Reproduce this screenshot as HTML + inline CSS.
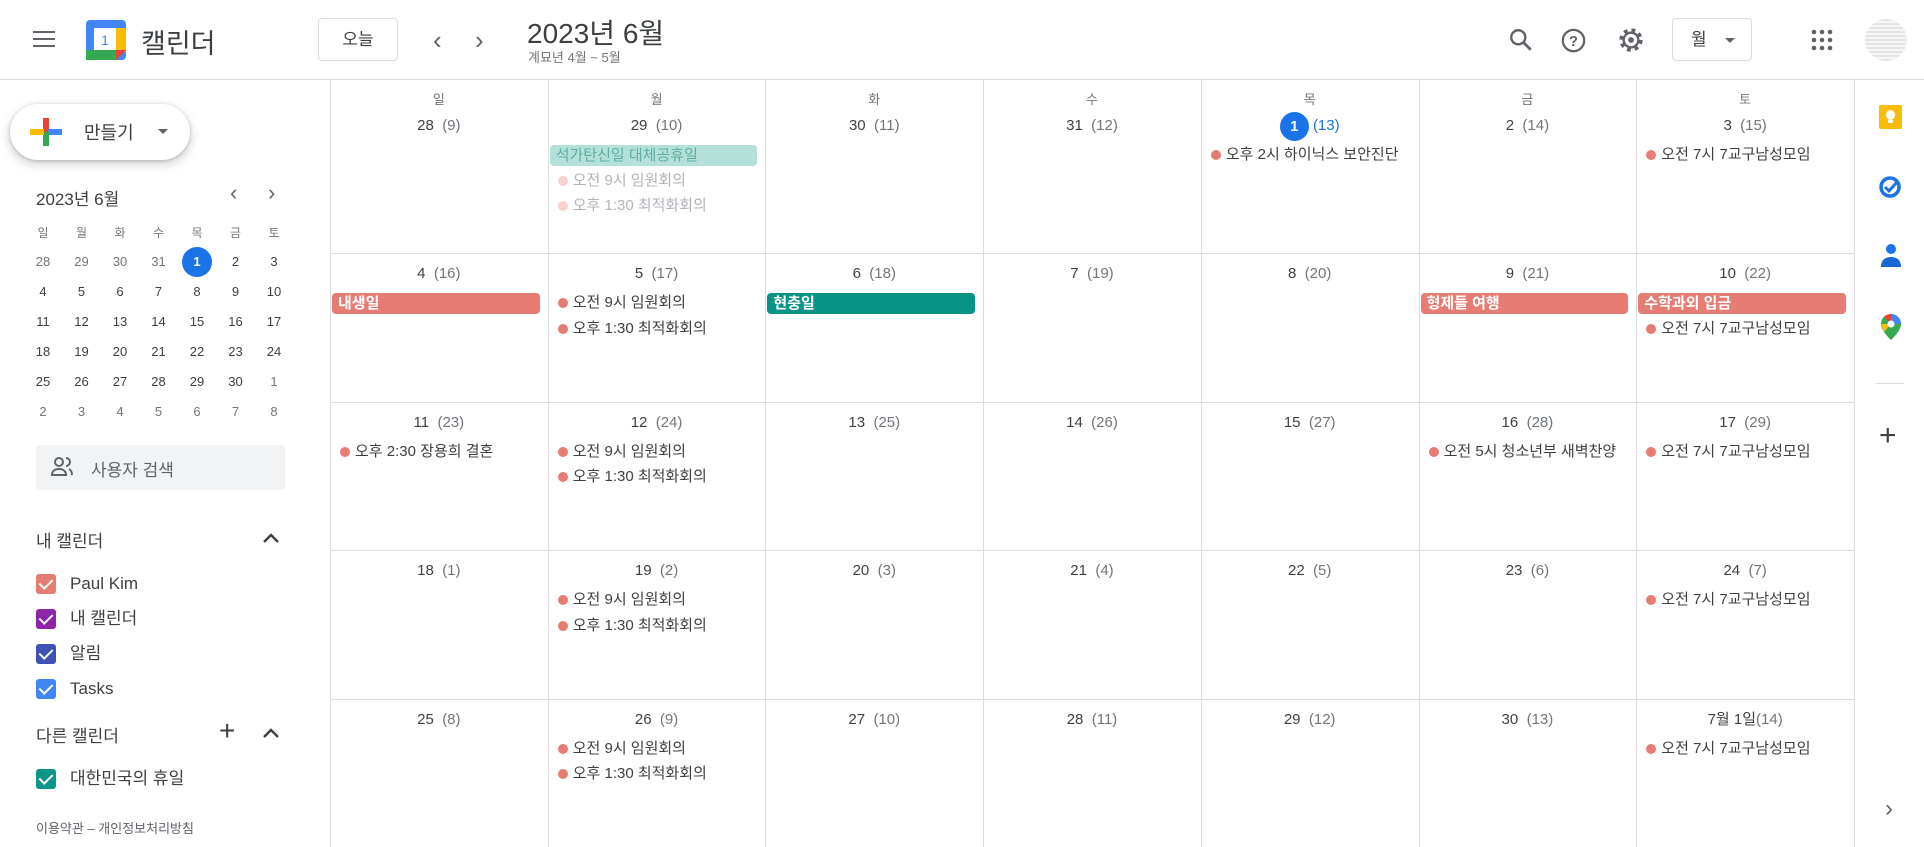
<!DOCTYPE html>
<html lang="ko"><head><meta charset="utf-8">
<style>
*{box-sizing:border-box;margin:0;padding:0}
body{width:1924px;height:847px;overflow:hidden;background:#fff;font-family:"Liberation Sans","Noto Sans CJK KR",sans-serif;color:#3c4043;position:relative}
.abs{position:absolute}
.ic{color:#5f6368}
.grid-line{position:absolute;background:#dadce0}
.cell-date{position:absolute;text-align:center;font-size:15px;line-height:20px;height:20px;color:#3c4043;white-space:nowrap;display:flex;justify-content:center;align-items:center}
.cell-date .lun{color:#70757a}
.ev-bar{position:absolute;height:21px;border-radius:4px;color:#fff;font-size:15px;font-weight:bold;line-height:21px;padding-left:6px;white-space:nowrap;overflow:hidden}
.ev-dot{position:absolute;font-size:15px;line-height:20px;white-space:nowrap;color:#3c4043}
.ev-dot i{position:absolute;left:-15px;top:5px;width:10px;height:10px;border-radius:50%;background:#e67c73}
.mini{position:absolute;width:38px;text-align:center;font-size:13px;line-height:18px;color:#3c4043}
.cb{position:absolute;left:36px;width:20px;height:20px;border-radius:3px}
.cb::after{content:"";position:absolute;left:6px;top:2px;width:6px;height:11px;border:solid #fff;border-width:0 2px 2px 0;transform:rotate(45deg)}
.cbl{position:absolute;left:70px;font-size:17px;line-height:20px;height:20px;color:#3c4043}
</style></head><body>

<!-- Header -->
<div class="abs" style="left:0;top:0;width:1924px;height:80px;border-bottom:1px solid #dadce0"></div>
<div class="abs" style="left:33px;top:31px;width:22px;height:16px">
  <div style="height:2px;background:#5f6368;margin-bottom:5px"></div><div style="height:2px;background:#5f6368;margin-bottom:5px"></div><div style="height:2px;background:#5f6368"></div>
</div>
<div class="abs" style="left:86px;top:20px;width:40px;height:40px">
  <svg width="40" height="40" viewBox="0 0 40 40"><rect x="0" y="0" width="40" height="40" rx="4" fill="#4285f4"/><rect x="30" y="8" width="10" height="24" fill="#fbbc04"/><rect x="0" y="30" width="32" height="10" fill="#34a853"/><polygon points="30,30 40,30 30,40" fill="#ea4335"/><rect x="8" y="8" width="22" height="22" fill="#fff"/><text x="19" y="25" font-size="14" text-anchor="middle" fill="#4285f4" font-family="Liberation Sans">1</text></svg>
</div>
<div class="abs" style="left:141px;top:22px;font-size:27px;color:#3c4043">캘린더</div>
<div class="abs" style="left:318px;top:18px;width:80px;height:43px;border:1px solid #dadce0;border-radius:4px;font-size:17px;text-align:center;line-height:41px">오늘</div>
<div class="abs ic" style="left:433px;top:25px;font-size:26px">&#8249;</div>
<div class="abs ic" style="left:475px;top:25px;font-size:26px">&#8250;</div>
<div class="abs" style="left:527px;top:12px;font-size:28px;color:#3c4043">2023년 6월</div>
<div class="abs" style="left:528px;top:47px;font-size:13px;color:#70757a">계묘년 4월 ~ 5월</div>

<svg class="abs" style="left:1508px;top:27px" width="26" height="26" viewBox="0 0 24 24"><circle cx="9.5" cy="9.5" r="6.5" fill="none" stroke="#5f6368" stroke-width="2.2"/><line x1="14" y1="14" x2="21" y2="21" stroke="#5f6368" stroke-width="2.6"/></svg>
<svg class="abs" style="left:1560px;top:27px" width="27" height="27" viewBox="0 0 24 24"><circle cx="12" cy="12" r="9.5" fill="none" stroke="#5f6368" stroke-width="2"/><text x="12" y="17" font-size="13" text-anchor="middle" fill="#5f6368" font-family="Liberation Sans" font-weight="bold">?</text></svg>
<svg class="abs" style="left:1617px;top:26px" width="28" height="28" viewBox="0 0 24 24"><circle cx="12" cy="12" r="8.5" fill="none" stroke="#5f6368" stroke-width="3" stroke-dasharray="3.3 3.4"/><circle cx="12" cy="12" r="6.3" fill="none" stroke="#5f6368" stroke-width="2"/><circle cx="12" cy="12" r="2.5" fill="#5f6368"/></svg>
<div class="abs" style="left:1672px;top:18px;width:80px;height:43px;border:1px solid #dadce0;border-radius:4px;font-size:17px;line-height:41px;padding-left:18px">월<span style="position:absolute;left:52px;top:19px;border:5px solid transparent;border-top-color:#5f6368"></span></div>
<svg class="abs" style="left:1810px;top:28px" width="24" height="24" viewBox="0 0 24 24"><g fill="#5f6368"><circle cx="4" cy="4" r="2.3"/><circle cx="12" cy="4" r="2.3"/><circle cx="20" cy="4" r="2.3"/><circle cx="4" cy="12" r="2.3"/><circle cx="12" cy="12" r="2.3"/><circle cx="20" cy="12" r="2.3"/><circle cx="4" cy="20" r="2.3"/><circle cx="12" cy="20" r="2.3"/><circle cx="20" cy="20" r="2.3"/></g></svg>
<div class="abs" style="left:1865px;top:19px;width:42px;height:42px;border-radius:50%;background:repeating-linear-gradient(0deg,#e4e4e4 0 2px,#f6f6f6 2px 4px)"></div>

<!-- Sidebar -->
<div class="abs" style="left:10px;top:104px;width:180px;height:56px;border-radius:28px;box-shadow:0 1px 3px rgba(60,64,67,.3),0 4px 8px 3px rgba(60,64,67,.15);background:#fff">
  <svg class="abs" style="left:20px;top:12px" width="32" height="32" viewBox="0 0 32 32"><rect x="13" y="2" width="6" height="14" fill="#ea4335"/><rect x="18" y="13" width="14" height="6" fill="#4285f4"/><rect x="13" y="16" width="6" height="14" fill="#34a853"/><rect x="0" y="13" width="14" height="6" fill="#fbbc04"/></svg>
  <span class="abs" style="left:74px;top:15px;font-size:18px;color:#3c4043">만들기</span>
  <span class="abs" style="left:148px;top:25px;border:5px solid transparent;border-top-color:#5f6368"></span>
</div>
<div class="abs" style="left:36px;top:185px;font-size:17px;color:#3c4043">2023년 6월</div>
<div class="abs ic" style="left:230px;top:180px;font-size:22px">&#8249;</div>
<div class="abs ic" style="left:268px;top:180px;font-size:22px">&#8250;</div>
<div id="mini"></div>

<div class="abs" style="left:36px;top:445px;width:249px;height:45px;background:#f1f3f4;border-radius:4px">
  <svg class="abs" style="left:14px;top:10px" width="26" height="24" viewBox="0 0 26 24"><circle cx="9" cy="7" r="4" fill="none" stroke="#5f6368" stroke-width="2"/><path d="M2 20c0-4 3-6 7-6s7 2 7 6z" fill="none" stroke="#5f6368" stroke-width="2"/><path d="M16 3a4 4 0 0 1 0 8M19 14c2 1 3 3 3 6" fill="none" stroke="#5f6368" stroke-width="2"/></svg>
  <span class="abs" style="left:55px;top:11px;font-size:17px;color:#5f6368">사용자 검색</span>
</div>
<div class="abs" style="left:36px;top:527px;font-size:17px;color:#3c4043">내 캘린더</div>
<svg class="abs" style="left:262px;top:532px" width="18" height="12" viewBox="0 0 18 12"><path d="M2 10l7-7 7 7" fill="none" stroke="#3c4043" stroke-width="2.4"/></svg>
<div class="cb" style="top:574px;background:#e67c73"></div><div class="cbl" style="top:574px">Paul Kim</div>
<div class="cb" style="top:609px;background:#8e24aa"></div><div class="cbl" style="top:609px">내 캘린더</div>
<div class="cb" style="top:644px;background:#3f51b5"></div><div class="cbl" style="top:644px">알림</div>
<div class="cb" style="top:679px;background:#4285f4"></div><div class="cbl" style="top:679px">Tasks</div>
<div class="abs" style="left:36px;top:722px;font-size:17px;color:#3c4043">다른 캘린더</div>
<div class="abs" style="left:219px;top:715px;font-size:28px;color:#3c4043;font-weight:300">+</div>
<svg class="abs" style="left:262px;top:727px" width="18" height="12" viewBox="0 0 18 12"><path d="M2 10l7-7 7 7" fill="none" stroke="#3c4043" stroke-width="2.4"/></svg>
<div class="cb" style="top:769px;background:#0b9688"></div><div class="cbl" style="top:769px">대한민국의 휴일</div>
<div class="abs" style="left:36px;top:818px;font-size:13px;color:#5f6368">이용약관 – 개인정보처리방침</div>

<!-- Grid -->
<div id="grid"></div>

<!-- Right side panel -->
<div class="grid-line" style="left:1854px;top:80px;width:1px;height:767px"></div>
<div class="abs" style="left:1879px;top:105px;width:23px;height:24px;background:#fbbc04;border-radius:2px"><div style="position:absolute;left:7px;top:5px;width:9px;height:10px;border-radius:50%;background:#fff"></div><div style="position:absolute;left:9px;top:15px;width:5px;height:3px;background:#fff"></div></div>
<svg class="abs" style="left:1878px;top:175px" width="24" height="24" viewBox="0 0 24 24"><circle cx="12" cy="12" r="9" fill="none" stroke="#1a73e8" stroke-width="3.5"/><path d="M7 12l4 4 8-9" fill="none" stroke="#1a73e8" stroke-width="3"/></svg>
<svg class="abs" style="left:1880px;top:243px" width="22" height="26" viewBox="0 0 22 26"><circle cx="11" cy="6" r="5" fill="#1a73e8"/><path d="M1 24c0-7 4-10 10-10s10 3 10 10z" fill="#1967d2"/></svg>
<svg class="abs" style="left:1880px;top:313px" width="22" height="28" viewBox="0 0 22 28"><path d="M11 1a10 10 0 0 0-10 10c0 7 10 16 10 16s10-9 10-16A10 10 0 0 0 11 1z" fill="#34a853"/><path d="M11 1a10 10 0 0 0-7 3l7 7z" fill="#ea4335"/><path d="M11 1a10 10 0 0 1 10 10l-10 0z" fill="#4285f4"/><path d="M1 11l10 0-7 8z" fill="#fbbc04"/><circle cx="11" cy="11" r="3.5" fill="#fff"/></svg>
<div class="grid-line" style="left:1876px;top:383px;width:28px;height:1px"></div>
<div class="abs" style="left:1879px;top:419px;font-size:30px;color:#3c4043;font-weight:300">+</div>
<div class="abs ic" style="left:1885px;top:795px;font-size:24px">&#8250;</div>

<script>
// mini calendar data
const miniWeekdays = ['일','월','화','수','목','금','토'];
const miniDates = [28,29,30,31,1,2,3,4,5,6,7,8,9,10,11,12,13,14,15,16,17,18,19,20,21,22,23,24,25,26,27,28,29,30,1,2,3,4,5,6,7,8];
const miniOther = [1,1,1,1,0,0,0,0,0,0,0,0,0,0,0,0,0,0,0,0,0,0,0,0,0,0,0,0,0,0,0,0,0,0,1,1,1,1,1,1,1,1];

// month grid data
const weekdays = ['일','월','화','수','목','금','토'];
const dayLabels = ['28','29','30','31','1','2','3','4','5','6','7','8','9','10','11','12','13','14','15','16','17','18','19','20','21','22','23','24','25','26','27','28','29','30','7월 1일'];
const lunarLabels = ['9','10','11','12','13','14','15','16','17','18','19','20','21','22','23','24','25','26','27','28','29','1','2','3','4','5','6','7','8','9','10','11','12','13','14'];
const todayIndex = 4;
const events = [
  {cell:1,type:'bar',color:'#b3e1da',text:'석가탄신일 대체공휴일',faded:true},
  {cell:1,type:'dot',text:'오전 9시 임원회의',faded:true},
  {cell:1,type:'dot',text:'오후 1:30 최적화회의',faded:true},
  {cell:4,type:'dot',text:'오후 2시 하이닉스 보안진단'},
  {cell:6,type:'dot',text:'오전 7시 7교구남성모임'},
  {cell:7,type:'bar',color:'#e67c73',text:'내생일'},
  {cell:8,type:'dot',text:'오전 9시 임원회의'},
  {cell:8,type:'dot',text:'오후 1:30 최적화회의'},
  {cell:9,type:'bar',color:'#079487',text:'현충일'},
  {cell:12,type:'bar',color:'#e67c73',text:'형제들 여행'},
  {cell:13,type:'bar',color:'#e67c73',text:'수학과외 입금'},
  {cell:13,type:'dot',text:'오전 7시 7교구남성모임'},
  {cell:14,type:'dot',text:'오후 2:30 장용희 결혼'},
  {cell:15,type:'dot',text:'오전 9시 임원회의'},
  {cell:15,type:'dot',text:'오후 1:30 최적화회의'},
  {cell:19,type:'dot',text:'오전 5시 청소년부 새벽찬양'},
  {cell:20,type:'dot',text:'오전 7시 7교구남성모임'},
  {cell:22,type:'dot',text:'오전 9시 임원회의'},
  {cell:22,type:'dot',text:'오후 1:30 최적화회의'},
  {cell:27,type:'dot',text:'오전 7시 7교구남성모임'},
  {cell:29,type:'dot',text:'오전 9시 임원회의'},
  {cell:29,type:'dot',text:'오후 1:30 최적화회의'},
  {cell:34,type:'dot',text:'오전 7시 7교구남성모임'}
];

(function(){
  const mini = document.getElementById('mini');
  const mx = i => 24 + i*38.5;
  miniWeekdays.forEach((w,i)=>{
    const d=document.createElement('div');d.className='mini';
    
    
    d.style.left=mx(i)+'px';d.style.top='224px';d.style.fontSize='12px';d.style.color='#70757a';d.textContent=w;mini.appendChild(d);
  });
  miniDates.forEach((v,k)=>{
    const c=k%7,r=Math.floor(k/7);
    const d=document.createElement('div');d.className='mini';
    
    
    const cy=262+r*30;
    d.style.left=mx(c)+'px';d.style.top=(cy-9)+'px';d.textContent=v;
    if(miniOther[k]) d.style.color='#70757a';
    if(k===todayIndex){d.style.left=(mx(c)+4)+'px';d.style.width='30px';d.style.height='30px';d.style.top=(cy-15)+'px';d.style.lineHeight='30px';d.style.borderRadius='50%';d.style.background='#1a73e8';d.style.color='#fff';d.style.fontWeight='bold';}
    mini.appendChild(d);
  });

  const grid=document.getElementById('grid');
  const gx0=330,gx1=1854,cw=(gx1-gx0)/7;
  const rowTop=r=> r===0?80:253+(r-1)*148.5;
  const colX=c=>gx0+c*cw;
  for(let c=0;c<=7;c++){
    const l=document.createElement('div');l.className='grid-line';
    
    
    l.style.left=Math.round(colX(c))+'px';l.style.top='80px';l.style.width='1px';l.style.height='767px';grid.appendChild(l);
  }
  for(let r=1;r<5;r++){
    const l=document.createElement('div');l.className='grid-line';
    
    
    l.style.left=gx0+'px';l.style.top=Math.round(rowTop(r))+'px';l.style.width=(gx1-gx0)+'px';l.style.height='1px';grid.appendChild(l);
  }
  weekdays.forEach((w,c)=>{
    const d=document.createElement('div');d.className='cell-date';
    
    
    d.style.left=colX(c)+'px';d.style.width=cw+'px';d.style.top='90px';d.style.fontSize='13px';d.style.color='#70757a';d.textContent=w;grid.appendChild(d);
  });
  const dateOff=r=> r===0?46:21;
  dayLabels.forEach((lab,k)=>{
    const c=k%7,r=Math.floor(k/7);
    const d=document.createElement('div');d.className='cell-date';
    
    
    d.style.left=colX(c)+'px';d.style.width=cw+'px';
    const cy=rowTop(r)+dateOff(r);
    d.style.top=(cy-10)+'px';
    const sep = lab.length>2 ? '' : '&nbsp;&nbsp;';
    if(k===todayIndex){
      d.innerHTML='<span style="display:inline-block;width:29px;height:29px;line-height:29px;border-radius:50%;background:#1a73e8;color:#fff;font-weight:bold;text-align:center">'+lab+'</span>&nbsp;<span style="color:#1a73e8">('+lunarLabels[k]+')</span>';
    } else {
      d.innerHTML=lab+sep+'<span class="lun">('+lunarLabels[k]+')</span>';
    }
    grid.appendChild(d);
  });
  const slot={};
  events.forEach(e=>{
    const c=e.cell%7,r=Math.floor(e.cell/7);
    const n=slot[e.cell]||0;slot[e.cell]=n+1;
    const cy=rowTop(r)+dateOff(r)+29+n*25.5;
    const el=document.createElement('div');
    if(e.type==='bar'){
      el.className='ev-bar';
      
      
      el.style.left=(colX(c)+2)+'px';el.style.width=(cw-10)+'px';el.style.top=(cy-10.5)+'px';el.style.background=e.color;
      if(e.faded){el.style.color='#5fae9f';el.style.fontWeight='normal';}
      el.textContent=e.text;
    } else {
      el.className='ev-dot';
      
      
      el.style.left=(colX(c)+25)+'px';el.style.top=(cy-10)+'px';
      el.innerHTML='<i></i>'+e.text;
      if(e.faded){el.style.color='#b0b3b8';el.firstChild.style.background='#f6d2cf';}
    }
    grid.appendChild(el);
  });
})();
</script>
</body></html>
